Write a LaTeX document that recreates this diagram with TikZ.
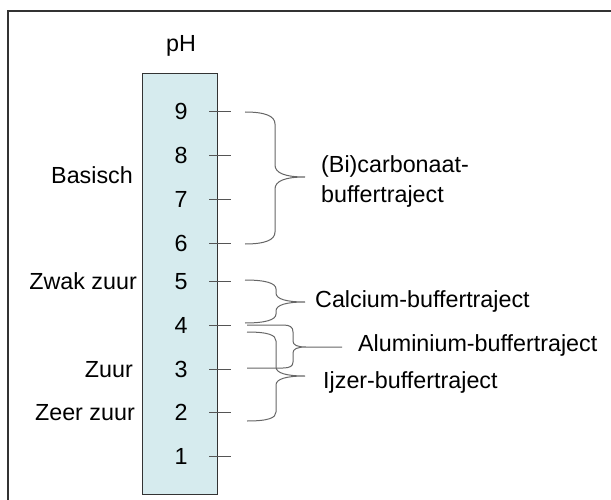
\documentclass[tikz,border=0pt]{standalone}
\usepackage{fontspec}
\setmainfont{Liberation Sans}
\definecolor{colfill}{HTML}{D6EBEE}
\definecolor{coledge}{HTML}{333333}
\definecolor{coltick}{HTML}{555555}
\definecolor{colbrace}{HTML}{666666}
\begin{document}
\begin{tikzpicture}[x=1bp,y=-1bp,
  lbl/.style={inner sep=0pt,font=\fontsize{23.3bp}{27bp}\selectfont},
  tickline/.style={draw=coltick,line width=1bp},
  bracestyle/.style={draw=colbrace,line width=1bp}]
\useasboundingbox (0,0) rectangle (611,500);
% frame (only left and top visible)
\draw[coledge,line width=1.6bp] (8,500) -- (8,11) -- (611,11);
% pH column
\node[draw=coledge,fill=colfill,line width=1bp,minimum width=75bp,minimum height=420bp,inner sep=0pt] (col) at (179.5,284) {};
\node[lbl,anchor=base] (ph) at (181,52) {pH};
% scale
\foreach \v/\y in {9/112,8/156,7/200,6/243,5/281,4/325,3/369,2/412,1/456}{
  \node[lbl,anchor=base] (n\v) at (181,\y+8) {\v};
  \coordinate (ta\v) at (209,\y);
  \coordinate (tb\v) at (231,\y);
  \draw[tickline] (ta\v) -- (tb\v);
}
% left labels
\node[lbl,anchor=base east] (bas) at (133,184) {Basisch};
\node[lbl,anchor=base east] (zwak) at (137,289) {Zwak zuur};
\node[lbl,anchor=base east] (zuur) at (133,377) {Zuur};
\node[lbl,anchor=base east] (zeer) at (135,420) {Zeer zuur};
% braces
\draw[bracestyle] (245,112) .. controls (265,112) and (275,116) .. (275,124) -- (275,165)
  .. controls (275,173) and (285,177) .. (305,177)
  .. controls (285,177) and (275,181) .. (275,189) -- (275,232)
  .. controls (275,240) and (265,244) .. (245,244);
\draw[bracestyle] (245,280) .. controls (265,280) and (276,283) .. (276,289) -- (276,293)
  .. controls (276,299) and (286,302) .. (305,302)
  .. controls (286,302) and (276,305) .. (276,311) -- (276,314)
  .. controls (276,320) and (265,323) .. (245,323);
\draw[bracestyle] (247,325) -- (283,325) .. controls (290,325) and (293,327) .. (293,332) -- (293,341)
  .. controls (293,345) and (297,347) .. (306,347) -- (342,347)
  -- (306,347) .. controls (297,347) and (293,349) .. (293,353) -- (293,362)
  .. controls (293,366) and (290,368) .. (283,368) -- (247,368);
\draw[bracestyle] (247,332) .. controls (268,332) and (276,335) .. (276,341) -- (276,367)
  .. controls (276,373) and (286,376) .. (305,376)
  .. controls (286,376) and (276,379) .. (276,385) -- (276,412)
  .. controls (276,418) and (268,421) .. (247,421);
% right labels
\node[lbl,anchor=base west,align=left] (bic) at (321,203) {(Bi)carbonaat-\\[3bp]buffertraject};
\node[lbl,anchor=base west] (ca) at (315,307) {Calcium-buffertraject};
\node[lbl,anchor=base west] (al) at (358,351) {Aluminium-buffertraject};
\node[lbl,anchor=base west] (fe) at (323,388) {Ijzer-buffertraject};
\end{tikzpicture}
\end{document}
